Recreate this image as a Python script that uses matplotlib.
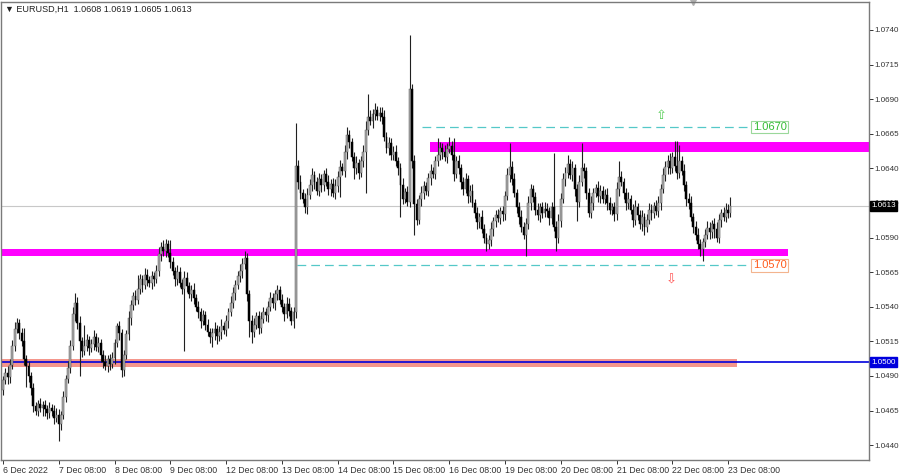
import matplotlib
matplotlib.use("Agg")
import matplotlib.pyplot as plt

# EURUSD H1, bougies (prix de cloture, meches en pips)
premiereOuverture = 1.0480

clotures = [
	# 6 Dec
	1.0487, 1.0492, 1.0489, 1.0498, 1.0512, 1.0524, 1.0528, 1.0521, 1.0515, 1.0502, 1.0497, 1.0490,
	1.0481, 1.0468, 1.0465, 1.0470, 1.0467, 1.0469, 1.0466, 1.0463, 1.0467, 1.0465, 1.0460, 1.0462,
	# 7 Dec
	1.0455, 1.0462, 1.0475, 1.0488, 1.0496, 1.0512, 1.0535, 1.0543, 1.0528, 1.0515, 1.0508, 1.0512,
	1.0516, 1.0510, 1.0513, 1.0518, 1.0511, 1.0514, 1.0505, 1.0500, 1.0497, 1.0502, 1.0499, 1.0503,
	# 8 Dec
	1.0514, 1.0526, 1.0521, 1.0494, 1.0505, 1.0520, 1.0532, 1.0541, 1.0548, 1.0545, 1.0553, 1.0560,
	1.0556, 1.0563, 1.0559, 1.0557, 1.0562, 1.0560, 1.0566, 1.0578, 1.0583, 1.0580, 1.0585, 1.0579,
	# 9 Dec
	1.0572, 1.0566, 1.0560, 1.0565, 1.0557, 1.0553, 1.0561, 1.0555, 1.0549, 1.0552, 1.0546, 1.0540,
	1.0536, 1.0530, 1.0534, 1.0527, 1.0522, 1.0518, 1.0521, 1.0524, 1.0519, 1.0522, 1.0526, 1.0523,
	# 12 Dec
	1.0530, 1.0536, 1.0543, 1.0550, 1.0556, 1.0562, 1.0566, 1.0571, 1.0575, 1.0549, 1.0530, 1.0522,
	1.0527, 1.0533, 1.0525, 1.0531, 1.0536, 1.0534, 1.0540, 1.0546, 1.0543, 1.0549, 1.0552, 1.0545,
	# 13 Dec
	1.0540, 1.0535, 1.0542, 1.0537, 1.0530, 1.0536, 1.0642, 1.0630, 1.0622, 1.0618, 1.0612, 1.0621,
	1.0628, 1.0635, 1.0630, 1.0624, 1.0632, 1.0628, 1.0636, 1.0630, 1.0625, 1.0629, 1.0622, 1.0627,
	# 14 Dec
	1.0634, 1.0641, 1.0638, 1.0652, 1.0664, 1.0659, 1.0648, 1.0640, 1.0644, 1.0637, 1.0645, 1.0652,
	1.0668, 1.0677, 1.0674, 1.0679, 1.0682, 1.0678, 1.0680, 1.0677, 1.0663, 1.0655, 1.0658, 1.0650,
	# 15 Dec
	1.0652, 1.0645, 1.0640, 1.0628, 1.0618, 1.0623, 1.0616, 1.0697, 1.0645, 1.0614, 1.0603, 1.0618,
	1.0622, 1.0627, 1.0624, 1.0633, 1.0638, 1.0636, 1.0645, 1.0650, 1.0655, 1.0652, 1.0648, 1.0654,
	# 16 Dec
	1.0656, 1.0650, 1.0636, 1.0645, 1.0640, 1.0630, 1.0625, 1.0632, 1.0620, 1.0624, 1.0615, 1.0608,
	1.0601, 1.0605, 1.0596, 1.0590, 1.0585, 1.0588, 1.0596, 1.0602, 1.0606, 1.0604, 1.0609, 1.0607,
	# 19 Dec
	1.0620, 1.0635, 1.0641, 1.0632, 1.0622, 1.0612, 1.0605, 1.0598, 1.0592, 1.0600, 1.0615, 1.0625,
	1.0619, 1.0610, 1.0606, 1.0612, 1.0608, 1.0611, 1.0609, 1.0604, 1.0612, 1.0598, 1.0590, 1.0602,
	# 20 Dec
	1.0618, 1.0632, 1.0637, 1.0643, 1.0635, 1.0640, 1.0625, 1.0616, 1.0630, 1.0640, 1.0638, 1.0622,
	1.0608, 1.0615, 1.0622, 1.0626, 1.0620, 1.0624, 1.0618, 1.0621, 1.0615, 1.0610, 1.0612, 1.0607,
	# 21 Dec
	1.0625, 1.0634, 1.0630, 1.0622, 1.0615, 1.0618, 1.0610, 1.0603, 1.0612, 1.0606, 1.0600, 1.0605,
	1.0598, 1.0603, 1.0610, 1.0608, 1.0613, 1.0609, 1.0615, 1.0625, 1.0635, 1.0641, 1.0645, 1.0640,
	# 22 Dec
	1.0648, 1.0642, 1.0637, 1.0645, 1.0638, 1.0628, 1.0618, 1.0615, 1.0605, 1.0598, 1.0592, 1.0585,
	1.0582, 1.0587, 1.0592, 1.0597, 1.0594, 1.0600, 1.0596, 1.0590, 1.0603, 1.0608, 1.0605, 1.0610,
	# 23 Dec
	1.0608, 1.0613,
]

mecheHaute = [
	3, 4, 5, 4, 4, 5, 4, 3, 4, 10, 3, 4, 3, 4, 3, 3, 4, 3, 4, 3, 4, 3, 4, 5,
	4, 3, 4, 3, 5, 4, 5, 7, 4, 5, 3, 15, 4, 3, 4, 5, 3, 4, 3, 4, 5, 3, 4, 4,
	3, 2, 4, 3, 4, 3, 5, 4, 3, 4, 10, 4, 3, 5, 4, 3, 4, 3, 4, 5, 4, 5, 4, 3,
	9, 4, 3, 5, 4, 3, 5, 4, 3, 4, 5, 3, 4, 3, 4, 3, 4, 3, 4, 5, 3, 4, 5, 3,
	4, 3, 5, 4, 3, 4, 5, 4, 5, 4, 3, 4, 5, 3, 4, 5, 4, 3, 4, 5, 4, 3, 4, 3,
	4, 3, 5, 4, 3, 4, 31, 4, 5, 3, 4, 5, 4, 5, 3, 4, 5, 4, 3, 4, 5, 3, 4, 5,
	4, 5, 3, 5, 6, 4, 3, 4, 5, 3, 4, 5, 6, 17, 5, 4, 5, 3, 4, 4, 5, 3, 5, 4,
	4, 5, 3, 4, 5, 3, 4, 39, 4, 5, 4, 3, 5, 4, 3, 4, 5, 3, 4, 12, 4, 3, 5, 4,
	7, 4, 12, 4, 5, 3, 4, 5, 3, 4, 5, 3, 4, 3, 5, 4, 3, 4, 5, 3, 4, 5, 3, 4,
	4, 5, 17, 4, 5, 3, 4, 5, 3, 4, 5, 4, 3, 4, 5, 3, 4, 5, 4, 3, 4, 39, 4, 5,
	4, 5, 4, 7, 4, 5, 3, 4, 5, 18, 4, 3, 4, 5, 4, 3, 5, 4, 3, 4, 5, 4, 3, 4,
	5, 11, 4, 3, 4, 5, 3, 4, 5, 3, 4, 5, 3, 4, 5, 4, 3, 4, 5, 4, 5, 4, 5, 6,
	4, 12, 18, 12, 4, 5, 3, 4, 5, 3, 4, 5, 4, 3, 4, 5, 4, 3, 4, 5, 4, 3, 4, 5,
	4, 6,
]

mecheBasse = [
	4, 3, 5, 4, 3, 4, 3, 4, 3, 4, 15, 4, 5, 4, 3, 4, 3, 6, 5, 4, 3, 4, 5, 3,
	12, 4, 3, 4, 3, 4, 3, 5, 4, 25, 4, 3, 4, 5, 3, 4, 3, 4, 5, 4, 3, 4, 5, 3,
	4, 3, 5, 5, 4, 3, 4, 5, 3, 4, 3, 4, 5, 3, 4, 3, 4, 5, 3, 4, 5, 3, 4, 3,
	4, 3, 5, 4, 3, 4, 45, 4, 3, 5, 4, 3, 4, 5, 3, 4, 3, 4, 7, 5, 6, 4, 5, 3,
	4, 5, 3, 4, 5, 3, 4, 5, 4, 5, 12, 8, 4, 3, 5, 4, 3, 4, 5, 3, 4, 5, 4, 3,
	4, 5, 3, 4, 3, 5, 4, 5, 4, 3, 4, 5, 3, 4, 5, 3, 4, 5, 4, 3, 4, 5, 3, 4,
	4, 15, 3, 4, 5, 4, 3, 8, 4, 5, 3, 4, 30, 4, 3, 5, 4, 3, 4, 5, 3, 4, 5, 4,
	4, 3, 5, 23, 4, 3, 3, 4, 5, 22, 4, 3, 5, 4, 3, 4, 5, 3, 4, 3, 4, 5, 3, 4,
	3, 4, 5, 3, 4, 5, 4, 3, 5, 4, 3, 4, 5, 4, 3, 4, 5, 3, 4, 5, 4, 3, 4, 5,
	4, 3, 5, 4, 3, 4, 5, 4, 3, 15, 4, 5, 3, 4, 3, 5, 4, 3, 4, 5, 4, 3, 10, 4,
	4, 3, 5, 4, 3, 4, 5, 14, 4, 3, 5, 4, 3, 4, 5, 3, 4, 5, 3, 4, 5, 3, 4, 5,
	4, 5, 3, 4, 5, 4, 3, 5, 4, 3, 4, 5, 6, 4, 3, 5, 4, 3, 4, 5, 3, 4, 5, 4,
	3, 4, 5, 4, 3, 4, 5, 4, 3, 5, 4, 3, 5, 9, 4, 3, 5, 4, 6, 3, 4, 5, 3, 4,
	4, 3,
]

etiquettesTemps = ["6 Dec 2022", "7 Dec 08:00", "8 Dec 08:00", "9 Dec 08:00", "12 Dec 08:00",
	"13 Dec 08:00", "14 Dec 08:00", "15 Dec 08:00", "16 Dec 08:00", "19 Dec 08:00",
	"20 Dec 08:00", "21 Dec 08:00", "22 Dec 08:00", "23 Dec 08:00"]

graduationsPrix = [1.0740, 1.0715, 1.0690, 1.0665, 1.0640, 1.0615, 1.0590, 1.0565,
	1.0540, 1.0515, 1.0490, 1.0465, 1.0440]

zoneResistance = (1.0652, 1.0659)
zoneSupportHaut = (1.0577, 1.0582)
zoneSupportBas = (1.04965, 1.05025)
niveauBleu = 1.0500
cibleHaute = 1.0670
cibleBasse = 1.0570

police = ["Liberation Sans", "DejaVu Sans"]
plt.rcParams["font.family"] = police

# calcul des bougies
ouvertures = [premiereOuverture] + clotures[:-1]
hauts = []
bas = []
for i in range(len(clotures)):
	hauts.append(max(ouvertures[i], clotures[i]) + mecheHaute[i] * 0.0001)
	bas.append(min(ouvertures[i], clotures[i]) - mecheBasse[i] * 0.0001)

X = list(range(len(clotures)))
basCorps = [min(ouvertures[i], clotures[i]) for i in X]
hautCorps = [max(abs(clotures[i] - ouvertures[i]), 0.00002) for i in X]
haussiere = [clotures[i] >= ouvertures[i] for i in X]
couleurs = ["#a8a8a8" if h else "black" for h in haussiere]
bords = ["#5a5a5a" if h else "black" for h in haussiere]

fig = plt.figure(figsize=(9, 4.73), dpi=100)
ax = fig.add_axes([1 / 900, 13 / 473, 868 / 900, 458 / 473])

ax.set_xlim(-0.86, 372.6)
ax.set_ylim(1.04293, 1.07602)

# zones et niveaux
ax.fill_between([183.7, 372.6], zoneResistance[0], zoneResistance[1], color="#ff00ff", lw=0, zorder=1)
ax.fill_between([-0.86, 337.8], zoneSupportHaut[0], zoneSupportHaut[1], color="#ff00ff", lw=0, zorder=1)
ax.fill_between([-0.86, 315.8], zoneSupportBas[0], zoneSupportBas[1], color="#f4968c", lw=0, zorder=1)
ax.axhline(niveauBleu, color="#0000dd", lw=1.2, zorder=2)
ax.axhline(clotures[-1], color="#c8c8c8", lw=0.8, zorder=1)

ax.plot([180.3, 322.3], [cibleHaute, cibleHaute], color="#55c8c8", lw=0.9, dashes=(7, 4), zorder=1)
ax.plot([126.5, 322.3], [cibleBasse, cibleBasse], color="#55c8c8", lw=0.9, dashes=(7, 4), zorder=1)

ax.text(322.6, cibleHaute, f"{cibleHaute:.4f}", color="#33bb33", fontsize=8, ha="left", va="center",
	bbox=dict(boxstyle="square,pad=0.12", fc="white", ec="#9ad89a", lw=0.8), zorder=5)
ax.text(322.6, cibleBasse, f"{cibleBasse:.4f}", color="#ff5a1a", fontsize=8, ha="left", va="center",
	bbox=dict(boxstyle="square,pad=0.12", fc="white", ec="#f3b48e", lw=0.8), zorder=5)

ax.text(283.1, 1.06785, "\u21e7", color="#55cc55", fontsize=9.5, ha="center", va="center",
	family=["DejaVu Sans"])
ax.text(287.4, 1.05595, "\u21e9", color="#ff5555", fontsize=9.5, ha="center", va="center",
	family=["DejaVu Sans"])

# bougies
ax.vlines(X, bas, hauts, color="#202020", lw=0.8, zorder=3)
ax.bar(X, hautCorps, bottom=basCorps, width=0.8, color=couleurs, edgecolor=bords, linewidth=0.35, zorder=4)

# axes
for spine in ax.spines.values():
	spine.set_color("#7a7a7a")
	spine.set_linewidth(1)

ax.yaxis.tick_right()
ax.set_yticks(graduationsPrix)
ax.set_yticklabels([f"{p:.4f}" for p in graduationsPrix])
ax.tick_params(axis="y", length=3, width=0.7, pad=1, labelsize=5.8, colors="#333333")

ax.set_xticks(range(0, 24 * len(etiquettesTemps), 24))
ax.set_xticklabels(etiquettesTemps)
ax.tick_params(axis="x", length=3, width=0.7, pad=1, labelsize=6.3, colors="#333333")
for etiquette in ax.get_xticklabels():
	etiquette.set_ha("left")

trans = ax.get_yaxis_transform()
ax.text(1.0025, clotures[-1], f"{clotures[-1]:.4f}", transform=trans, color="white", fontsize=5.8,
	ha="left", va="center", bbox=dict(boxstyle="square,pad=0.2", fc="black", ec="black"), zorder=6, clip_on=False)
ax.text(1.0025, niveauBleu, f"{niveauBleu:.4f}", transform=trans, color="white", fontsize=5.8,
	ha="left", va="center", bbox=dict(boxstyle="square,pad=0.2", fc="#0000dd", ec="#0000dd"), zorder=6, clip_on=False)

# marqueur de decalage en haut
ax.plot([296.9], [1.0], marker="v", color="#b0b0b0", markersize=5, transform=ax.get_xaxis_transform(), clip_on=False)

# titre
titre = f"\u25bc EURUSD,H1  {ouvertures[-1]:.4f} {hauts[-1]:.4f} {bas[-1]:.4f} {clotures[-1]:.4f}"
fig.text(5 / 900, 1 - 9 / 473, titre, fontsize=6.5, ha="left", va="center", color="#222222")

fig.savefig("out.png", dpi=100)
